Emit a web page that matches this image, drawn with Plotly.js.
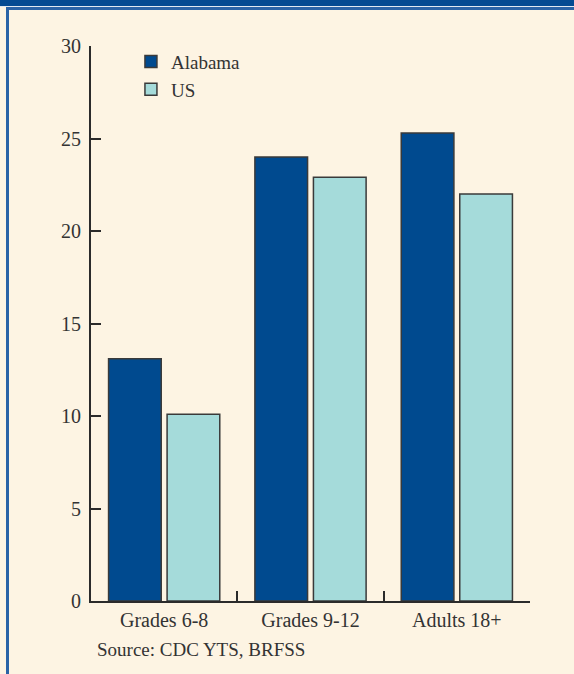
<!DOCTYPE html>
<html>
<head>
<meta charset="utf-8">
<script src="https://cdn.plot.ly/plotly-3.0.1.min.js"></script>
<style>
  html, body { margin: 0; padding: 0; background: #fdf4e3; }
  #wrap { position: relative; width: 574px; height: 674px; overflow: hidden; }
  #chart { position: absolute; left: 0; top: 0; width: 574px; height: 674px; }
  .band { position: absolute; pointer-events: none; }
</style>
</head>
<body>
<div id="wrap">
  <div id="chart"></div>
  <!-- header strip and panel frame -->
  <div class="band" style="left:0;top:0;width:574px;height:6px;background:#034a92;"></div>
  <div class="band" style="left:0;top:6px;width:574px;height:1px;background:#dfe8f0;"></div>
  <div class="band" style="left:6px;top:7px;width:568px;height:3px;background:#2a63a6;"></div>
  <div class="band" style="left:6px;top:7px;width:3px;height:667px;background:#2a63a6;"></div>
</div>
<script>
// Smoking rates by group, percent
const categories = ['Grades 6-8', 'Grades 9-12', 'Adults 18+'];
const alabama = [13.1, 24.0, 25.3];
const us = [10.1, 22.9, 22.0];
const yTicks = [0, 5, 10, 15, 20, 25, 30];

const serif = '"Liberation Serif", "DejaVu Serif", serif';
const ink = '#2b2b2b';

const traces = [
  {
    type: 'bar', name: 'Alabama', x: categories, y: alabama,
    marker: { color: '#004a8f', line: { color: '#3a3a3a', width: 1.5 } },
    hoverinfo: 'x+y'
  },
  {
    type: 'bar', name: 'US', x: categories, y: us,
    marker: { color: '#a5dbda', line: { color: '#3a3a3a', width: 1.5 } },
    hoverinfo: 'x+y'
  }
];

const layout = {
  width: 574, height: 674,
  margin: { l: 91, r: 44, t: 46, b: 73 },
  paper_bgcolor: '#fdf4e3',
  plot_bgcolor: '#fdf4e3',
  font: { family: serif, size: 20, color: '#333' },
  barmode: 'group',
  bargap: 0.2,
  bargroupgap: 0.1,
  showlegend: true,
  legend: {
    x: 0.091, y: 1.006, xanchor: 'left', yanchor: 'top',
    bgcolor: 'rgba(0,0,0,0)', font: { family: serif, size: 19, color: '#333' },
    tracegroupgap: 0, itemclick: false
  },
  xaxis: {
    type: 'category', range: [-0.5, 2.5],
    showline: true, linecolor: ink, linewidth: 2,
    ticks: 'inside', tickson: 'boundaries', ticklen: 10, tickwidth: 2, tickcolor: ink,
    showgrid: false, zeroline: false, fixedrange: true,
    tickfont: { family: serif, size: 20, color: '#333' }
  },
  yaxis: {
    range: [0, 30], tickvals: yTicks, ticktext: yTicks.map(String),
    showline: true, linecolor: ink, linewidth: 2,
    ticks: 'inside', ticklen: 10, tickwidth: 2, tickcolor: ink,
    showgrid: false, zeroline: false, fixedrange: true,
    ticklabelstandoff: 4,
    tickfont: { family: serif, size: 20, color: '#333' }
  },
  annotations: [
    {
      xref: 'paper', yref: 'paper', x: 0.009, y: -0.087,
      xanchor: 'left', yanchor: 'middle', showarrow: false,
      text: 'Source: CDC YTS, BRFSS',
      font: { family: serif, size: 19, color: '#333' }
    }
  ]
};

Plotly.newPlot('chart', traces, layout, { displayModeBar: false, staticPlot: false });
</script>
</body>
</html>
